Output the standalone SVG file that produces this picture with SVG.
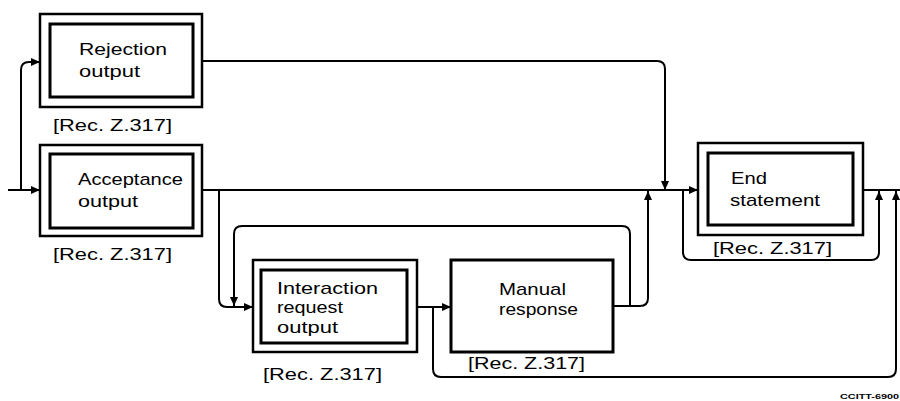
<svg xmlns="http://www.w3.org/2000/svg" width="900" height="401" viewBox="0 0 900 401">
<style>
.outer{fill:none;stroke:#000;stroke-width:2.5}
.inner{fill:none;stroke:#000;stroke-width:3}
.single{fill:none;stroke:#000;stroke-width:3}
.t{font-family:"Liberation Sans",Arial,sans-serif;font-size:17px;fill:#000}
.c{fill:none;stroke:#000;stroke-width:2}
.ref{font-family:"Liberation Sans",Arial,sans-serif;font-size:8px;font-weight:bold;fill:#000}
</style>
<defs>
<marker id="ah" markerWidth="10" markerHeight="10" refX="9" refY="5" orient="auto" markerUnits="userSpaceOnUse">
<path d="M0,1 L9,5 L0,9 Z" fill="#000"/>
</marker>
</defs>
<rect width="900" height="401" fill="#fff"/>
<g id="connectors">
<path class="c" d="M8,190 H40" marker-end="url(#ah)"/>
<path class="c" d="M21,190 V70 Q21,62 29,62 H40" marker-end="url(#ah)"/>
<path class="c" d="M202,61 H657 Q665,61 665,69 V190" marker-end="url(#ah)"/>
<path class="c" d="M202,190 H698" marker-end="url(#ah)"/>
<path class="c" d="M219,190 V299 Q219,307 227,307 H253" marker-end="url(#ah)"/>
<path class="c" d="M417,307 H451" marker-end="url(#ah)"/>
<path class="c" d="M613,306 H640 Q648,306 648,298 V191" marker-end="url(#ah)"/>
<path class="c" d="M630,306 V234 Q630,226 622,226 H242 Q234,226 234,234 V306" marker-end="url(#ah)"/>
<path class="c" d="M433,307 V369 Q433,377 441,377 H888 Q896,377 896,369 V191" marker-end="url(#ah)"/>
<path class="c" d="M863,190 H900"/>
<path class="c" d="M683,190 V252 Q683,260 691,260 H871 Q879,260 879,252 V191" marker-end="url(#ah)"/>
</g>
<g id="rejection">
<rect class="outer" x="40" y="14" width="162" height="93"/>
<rect class="inner" x="50" y="24" width="143" height="73"/>
<text class="t" x="79" y="55" textLength="88" lengthAdjust="spacingAndGlyphs">Rejection</text>
<text class="t" x="79" y="77" textLength="61" lengthAdjust="spacingAndGlyphs">output</text>
<text class="t" x="53" y="131" textLength="119" lengthAdjust="spacingAndGlyphs">[Rec. Z.317]</text>
</g>
<g id="acceptance">
<rect class="outer" x="40" y="145" width="162" height="91"/>
<rect class="inner" x="50" y="154" width="143" height="74"/>
<text class="t" x="78" y="185" textLength="105" lengthAdjust="spacingAndGlyphs">Acceptance</text>
<text class="t" x="78" y="207" textLength="60" lengthAdjust="spacingAndGlyphs">output</text>
<text class="t" x="53" y="260" textLength="119" lengthAdjust="spacingAndGlyphs">[Rec. Z.317]</text>
</g>
<g id="interaction">
<rect class="outer" x="253" y="260" width="164" height="92"/>
<rect class="inner" x="261" y="270" width="146" height="73"/>
<text class="t" x="277" y="294" textLength="101" lengthAdjust="spacingAndGlyphs">Interaction</text>
<text class="t" x="277" y="313" textLength="66" lengthAdjust="spacingAndGlyphs">request</text>
<text class="t" x="277" y="333" textLength="61" lengthAdjust="spacingAndGlyphs">output</text>
<text class="t" x="263" y="380" textLength="119" lengthAdjust="spacingAndGlyphs">[Rec. Z.317]</text>
</g>
<g id="manual">
<rect class="single" x="451" y="260" width="162" height="92"/>
<text class="t" x="499" y="295" textLength="67" lengthAdjust="spacingAndGlyphs">Manual</text>
<text class="t" x="499" y="315" textLength="79" lengthAdjust="spacingAndGlyphs">response</text>
<text class="t" x="468" y="369" textLength="117" lengthAdjust="spacingAndGlyphs">[Rec. Z.317]</text>
</g>
<g id="end">
<rect class="outer" x="698" y="143" width="165" height="92"/>
<rect class="inner" x="708" y="153" width="145" height="72"/>
<text class="t" x="731" y="184" textLength="36" lengthAdjust="spacingAndGlyphs">End</text>
<text class="t" x="730" y="206" textLength="90" lengthAdjust="spacingAndGlyphs">statement</text>
<text class="t" x="713" y="254" textLength="119" lengthAdjust="spacingAndGlyphs">[Rec. Z.317]</text>
</g>
<text class="ref" x="840" y="399" textLength="59" lengthAdjust="spacingAndGlyphs">CCITT-6900</text>
</svg>
